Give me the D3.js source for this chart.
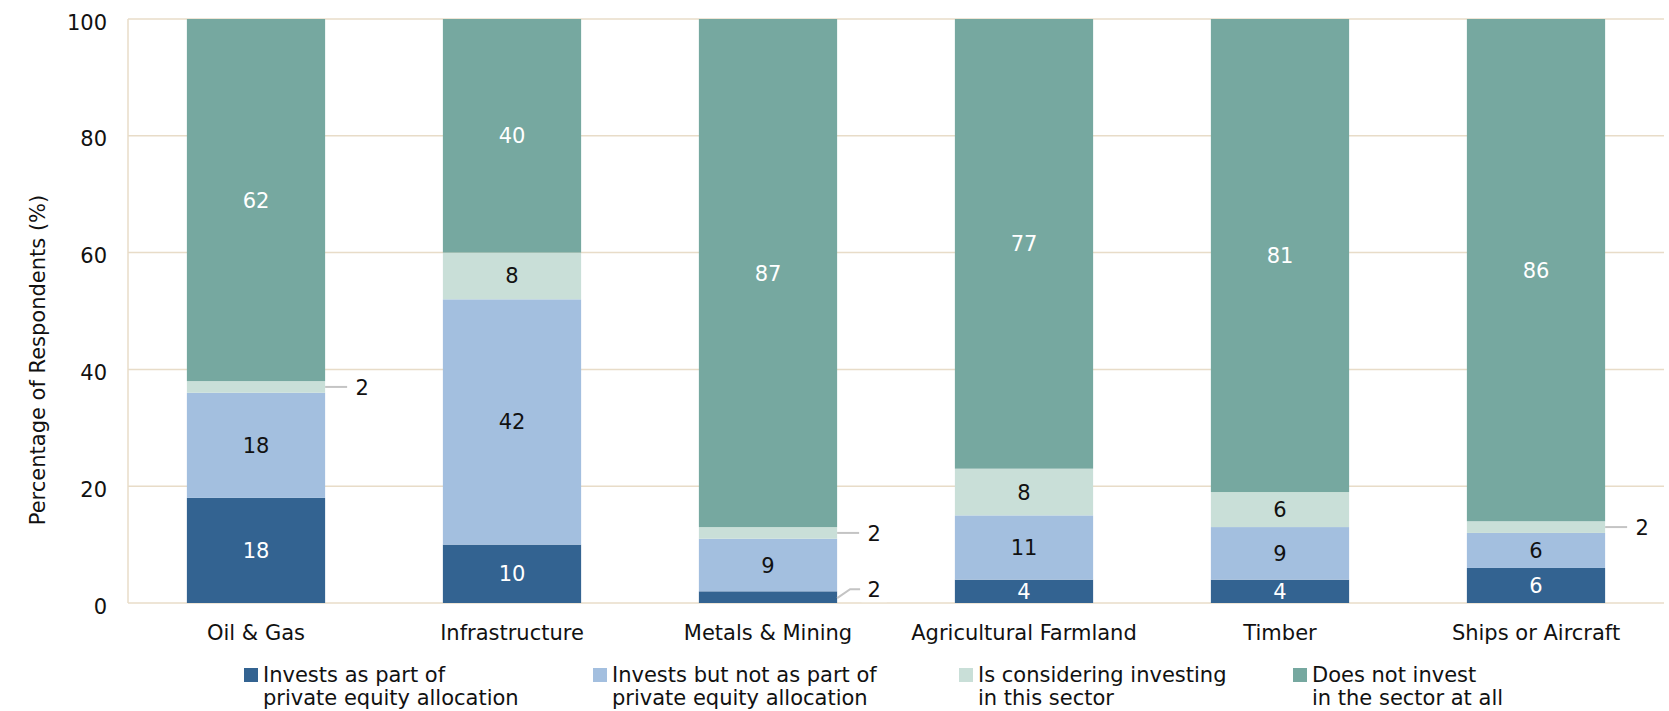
<!DOCTYPE html>
<html>
<head>
<meta charset="utf-8">
<script src="https://cdn.jsdelivr.net/npm/d3@7"></script>
<style>
  html, body { margin: 0; padding: 0; background: #ffffff; }
  svg { display: block; }
  svg text { font-family: "DejaVu Sans", Verdana, sans-serif; }
</style>
</head>
<body>
<svg id="chart" width="1669" height="711"></svg>
<script>
// Sectors surveyed
const categories = ["Oil & Gas", "Infrastructure", "Metals & Mining", "Agricultural Farmland", "Timber", "Ships or Aircraft"];

// Share of respondents (%) per sector, one array per response
const investsPE      = [18, 10, 2, 4, 4, 6];
const investsNotPE   = [18, 42, 9, 11, 9, 6];
const considering    = [2, 8, 2, 8, 6, 2];
const doesNotInvest  = [62, 40, 87, 77, 81, 86];

const seriesNames = [
  ["Invests as part of", "private equity allocation"],
  ["Invests but not as part of", "private equity allocation"],
  ["Is considering investing", "in this sector"],
  ["Does not invest", "in the sector at all"]
];
const yTicks = [0, 20, 40, 60, 80, 100];

const seriesValues = [investsPE, investsNotPE, considering, doesNotInvest];
const colors = ["#336391", "#a3bfdf", "#c9dfd8", "#76a8a0"];
const labelColors = ["#ffffff", "#111111", "#111111", "#ffffff"];
const gridColor = "#e8dcc8";
const fontSize = 21;

const svg = d3.select("#chart");
const plotLeft = 128, plotRight = 1664, plotTop = 19, plotBottom = 603;

const x = d3.scaleBand().domain(categories).range([plotLeft, plotRight]).paddingInner(0.46).paddingOuter(0.23);
const y = d3.scaleLinear().domain([0, 100]).range([plotBottom, plotTop]);

// Build a table for d3.stack
const keys = ["s0", "s1", "s2", "s3"];
const table = categories.map((c, i) => {
  const row = { category: c };
  keys.forEach((k, j) => row[k] = seriesValues[j][i]);
  return row;
});
const stacked = d3.stack().keys(keys)(table);

// Gridlines
svg.append("g")
  .selectAll("line")
  .data(yTicks)
  .join("line")
  .attr("x1", plotLeft).attr("x2", plotRight)
  .attr("y1", d => y(d)).attr("y2", d => y(d))
  .attr("stroke", gridColor).attr("stroke-width", 1.5);

// Left axis line
svg.append("line")
  .attr("x1", plotLeft).attr("x2", plotLeft)
  .attr("y1", y(100)).attr("y2", y(0))
  .attr("stroke", gridColor).attr("stroke-width", 1.5);

// Y axis tick labels
const yAxis = d3.axisLeft(y).tickValues(yTicks).tickSize(0).tickPadding(21);
const yg = svg.append("g").attr("transform", `translate(${plotLeft},0)`).call(yAxis)
  .attr("font-family", null).attr("font-size", null);
yg.select(".domain").remove();
yg.selectAll("text")
  .attr("font-size", fontSize).attr("fill", "#111")
  .attr("dy", null).attr("y", 10);

// X axis labels
const xAxis = d3.axisBottom(x).tickSize(0).tickPadding(0);
const xg = svg.append("g").attr("transform", `translate(0,${plotBottom})`).call(xAxis)
  .attr("font-family", null).attr("font-size", null);
xg.select(".domain").remove();
xg.selectAll("text")
  .attr("font-size", fontSize).attr("fill", "#111")
  .attr("dy", null).attr("y", 37);

// Y axis title
svg.append("text")
  .attr("transform", `translate(45,360) rotate(-90)`)
  .attr("text-anchor", "middle")
  .attr("font-size", fontSize)
  .attr("fill", "#111")
  .text("Percentage of Respondents (%)");

// Bars
const layers = svg.append("g").selectAll("g")
  .data(stacked)
  .join("g")
  .attr("fill", (d, i) => colors[i]);

layers.selectAll("rect")
  .data(d => d)
  .join("rect")
  .attr("x", d => x(d.data.category))
  .attr("width", x.bandwidth())
  .attr("y", d => y(d[1]))
  .attr("height", d => y(d[0]) - y(d[1]));

// Segment value labels: inside when there is room, otherwise with a leader line
const labelG = svg.append("g").attr("font-size", fontSize);
stacked.forEach((layer, li) => {
  layer.forEach(d => {
    const v = d[1] - d[0];
    const cx = x(d.data.category) + x.bandwidth() / 2;
    const cy = y((d[0] + d[1]) / 2);
    if (v >= 4) {
      labelG.append("text")
        .attr("x", cx).attr("y", cy + 7.5)
        .attr("text-anchor", "middle")
        .attr("fill", labelColors[li])
        .text(v);
    } else {
      const edge = x(d.data.category) + x.bandwidth();
      let pts, ly = cy;
      if (li === 0) {
        ly = cy - 8;
        pts = [[edge, cy + 1], [edge + 13, ly], [edge + 23, ly]];
      } else {
        pts = [[edge, cy], [edge + 22, cy]];
      }
      labelG.append("path")
        .attr("d", d3.line()(pts))
        .attr("fill", "none")
        .attr("stroke", "#c4c4c4")
        .attr("stroke-width", 2);
      const t = labelG.append("text")
        .attr("x", edge + 37).attr("y", ly + 8)
        .attr("text-anchor", "middle")
        .attr("fill", "#111")
        .text(v);
      const bb = t.node().getBBox();
      labelG.insert("rect", () => t.node())
        .attr("x", bb.x - 6).attr("y", bb.y + 2)
        .attr("width", bb.width + 12).attr("height", bb.height - 2)
        .attr("fill", "#ffffff");
    }
  });
});

// Legend
const legendX = [244, 593, 959, 1293];
const legend = svg.append("g").attr("font-size", fontSize).attr("fill", "#111");
seriesNames.forEach((lines, i) => {
  const g = legend.append("g").attr("transform", `translate(${legendX[i]},668)`);
  g.append("rect").attr("width", 14).attr("height", 14).attr("fill", colors[i]);
  lines.forEach((ln, k) => {
    g.append("text")
      .attr("x", 19).attr("y", 14 + k * 23)
      .text(ln);
  });
});
</script>
</body>
</html>
